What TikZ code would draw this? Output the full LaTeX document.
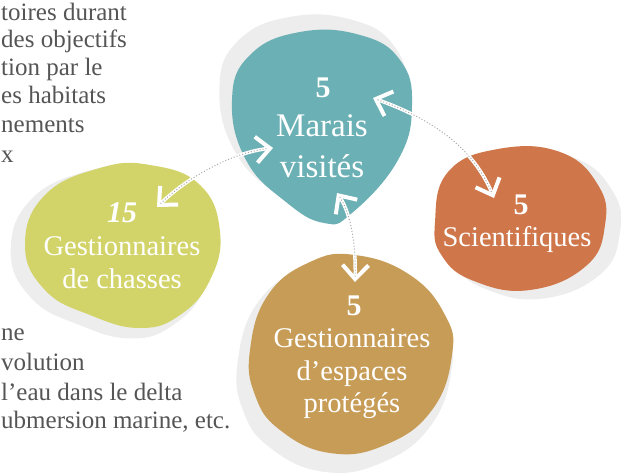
\documentclass[tikz,border=0pt]{standalone}
\usepackage{fontspec}
\setmainfont{Liberation Serif}
\usetikzlibrary{arrows.meta}
\definecolor{blobteal}{HTML}{6BB0B4}
\definecolor{blobrust}{HTML}{CF764A}
\definecolor{blobolive}{HTML}{D2D46A}
\definecolor{blobgold}{HTML}{C79C57}
\definecolor{shadowgrey}{HTML}{EDEDED}
\definecolor{bodygrey}{HTML}{555555}
\definecolor{dotgrey}{HTML}{A8A8A8}
\tikzset{
  bodytext/.style={font=\fontsize{25}{25}\selectfont, text=bodygrey, anchor=base west, inner sep=0pt},
  lbl/.style={font=\fontsize{28.5}{28.5}\selectfont, text=white, anchor=base, inner sep=0pt},
  biglbl/.style={font=\fontsize{33}{33}\selectfont, text=white, anchor=base, inner sep=0pt},
  numlbl/.style={font=\fontsize{30}{30}\selectfont\bfseries, text=white, anchor=center, inner sep=0pt},
  stem/.style={white, line width=3.5pt, line join=miter,
    {Straight Barb[length=14pt,width=26pt,line width=4pt]}-{Straight Barb[length=14pt,width=26pt,line width=4pt]}},
  dots/.style={dotgrey, line width=1pt, dash pattern=on 1pt off 2pt, shorten <=5pt, shorten >=5pt},
  blobshape/.style={smooth cycle, tension=0.75}
}
\begin{document}
\begin{tikzpicture}[x=1pt,y=-1pt]
\useasboundingbox (0,0) rectangle (621,476);
\clip (0,0) rectangle (621,476);

% body text fragments
\node[bodytext] (t1) at (1,21) {toires durant};
\node[bodytext] (t2) at (1,48) {des objectifs};
\node[bodytext] (t3) at (1,76) {tion par le};
\node[bodytext] (t4) at (1,104) {es habitats};
\node[bodytext] (t5) at (1,133) {nements};
\node[bodytext] (t6) at (1,163) {x};
\node[bodytext] (t7) at (1,340) {ne};
\node[bodytext] (t8) at (1,370) {volution};
\node[bodytext] (t9) at (1,400) {l’eau dans le delta};
\node[bodytext] (t10) at (1,428) {ubmersion marine, etc.};

% teal blob
\def\tealpts{(232,100) (250,55) (300,32) (360,35) (400,60) (412,105) (398,160) (352,213) (324,223) (286,202) (246,160)}
\begin{scope}[shift={(313,125)}, scale=1.04, shift={(-313,-125)}, shift={(-9,-11)}]
\fill[shadowgrey] plot[blobshape] coordinates {\tealpts};
\end{scope}
\fill[blobteal] plot[blobshape] coordinates {\tealpts};

% rust blob
\def\rustpts{(435,222) (448,172) (498,149) (560,152) (598,185) (605,225) (586,266) (530,290) (474,281) (442,256)}
\begin{scope}[shift={(520,220)}, scale=1.02, shift={(-520,-220)}, shift={(13,7)}]
\fill[shadowgrey] plot[blobshape] coordinates {\rustpts};
\end{scope}
\fill[blobrust] plot[blobshape] coordinates {\rustpts};

% olive blob
\def\olivepts{(25,245) (45,195) (100,168) (150,165) (200,185) (220,232) (210,280) (180,315) (140,328) (90,315) (45,290)}
\begin{scope}[shift={(122,245)}, scale=1.05, shift={(-122,-245)}, shift={(-9,6)}]
\fill[shadowgrey] plot[blobshape] coordinates {\olivepts};
\end{scope}
\fill[blobolive] plot[blobshape] coordinates {\olivepts};

% gold blob
\def\goldpts{(250,350) (268,295) (310,262) (355,255) (410,275) (445,315) (452,355) (432,410) (385,445) (330,453) (280,430) (255,395)}
\begin{scope}[shift={(350,355)}, scale=1.06, shift={(-350,-355)}, shift={(-6,12)}]
\fill[shadowgrey] plot[blobshape] coordinates {\goldpts};
\end{scope}
\fill[blobgold] plot[blobshape] coordinates {\goldpts};

% connector end points
\coordinate (mL) at (273,148);
\coordinate (mR) at (373,98);
\coordinate (mB) at (337,193);
\coordinate (cT) at (157,207);
\coordinate (sT) at (494,198);
\coordinate (eT) at (355,282);

% connectors
\draw[stem] (cT) .. controls (190,175) and (235,152) .. (mL);
\draw[dots] (cT) .. controls (190,175) and (235,152) .. (mL);
\draw[stem] (mR) .. controls (420,115) and (470,140) .. (sT);
\draw[dots] (mR) .. controls (420,115) and (470,140) .. (sT);
\draw[stem] (mB) .. controls (352,215) and (356,250) .. (eT);
\draw[dots] (mB) .. controls (352,215) and (356,250) .. (eT);

% labels
\node[numlbl] (n1) at (323,88) {5};
\node[biglbl] (m1) at (322,137) {Marais};
\node[biglbl] (m2) at (322,177) {visités};

\node[numlbl] (n2) at (521,205) {5};
\node[lbl] (s1) at (517,246) {Scientifiques};

\node[numlbl, font=\fontsize{30}{30}\selectfont\bfseries\itshape] (n3) at (122,213) {15};
\node[lbl] (c1) at (122,255) {Gestionnaires};
\node[lbl] (c2) at (122,288) {de chasses};

\node[numlbl] (n4) at (354,306) {5};
\node[lbl] (e1) at (352,347) {Gestionnaires};
\node[lbl] (e2) at (352,380) {d’espaces};
\node[lbl] (e3) at (352,412) {protégés};
\end{tikzpicture}
\end{document}
